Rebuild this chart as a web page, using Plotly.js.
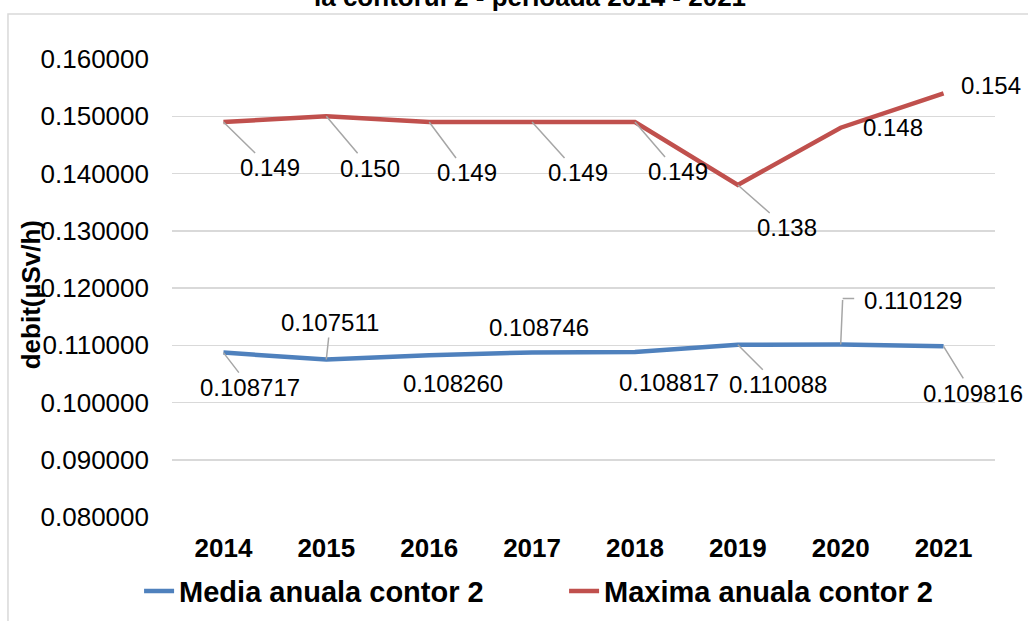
<!DOCTYPE html>
<html>
<head>
<meta charset="utf-8">
<script src="https://cdn.plot.ly/plotly-3.0.1.min.js"></script>
<style>html,body{margin:0;padding:0;background:#fff;}#chart{width:1028px;height:621px;}</style>
</head>
<body>
<div id="chart"></div>
<script>
// ---- data ----
const years = ['2014','2015','2016','2017','2018','2019','2020','2021'];
const mediaValues = [0.108717, 0.107511, 0.108260, 0.108746, 0.108817, 0.110088, 0.110129, 0.109816];
const maximaValues = [0.149, 0.150, 0.149, 0.149, 0.149, 0.138, 0.148, 0.154];
const seriesNames = ['Media anuala contor 2', 'Maxima anuala contor 2'];
const titleText = 'la contorul 2 - perioada 2014 - 2021';
const yTitleText = 'debit(µSv/h)';

// ---- label styling (pixel offsets of label centre from its point) ----
const maxOffsets = [[47,46,true],[44,52,true],[38,51,true],[46,51,true],[43,50,true],[49,43,true],[52,0,false],[47,-8,false]];
const medOffsets = [[27,35,true],[4,-37,true],[24,28,false],[7,-25,false],[34,30,false],[40,40,true],[72,-44,'elbow'],[29,47,true]];

const FONT = 'Liberation Sans, Arial, sans-serif';
const labelFont = {family: FONT, size: 24, color: '#000'};
const leader = '#a6a6a6';

const traces = [
  {x: years, y: mediaValues, name: seriesNames[0], type: 'scatter', mode: 'lines',
   line: {color: '#4F81BD', width: 4.5}},
  {x: years, y: maximaValues, name: seriesNames[1], type: 'scatter', mode: 'lines',
   line: {color: '#C0504D', width: 4.5}}
];

const annotations = [];
function addLabels(vals, offs, digits) {
  vals.forEach((v, i) => {
    const [dx, dy, arrow] = offs[i];
    const txt = v.toFixed(digits);
    if (arrow === true) {
      annotations.push({x: i, y: v, xref: 'x', yref: 'y', text: txt, font: labelFont,
        showarrow: true, arrowhead: 0, arrowwidth: 1.5, arrowcolor: leader, ax: dx, ay: dy, standoff: 0});
    } else if (arrow === 'elbow') {
      annotations.push({x: i, y: v, xref: 'x', yref: 'y', text: '', showarrow: true,
        arrowhead: 0, arrowwidth: 1.5, arrowcolor: leader, ax: 2, ay: -46, standoff: 0});
      annotations.push({x: i, y: v, xref: 'x', yref: 'y', text: '', showarrow: true,
        arrowhead: 0, arrowwidth: 1.5, arrowcolor: leader, ax: 13, ay: 0, xshift: 2, yshift: 46, standoff: 0});
      annotations.push({x: i, y: v, xref: 'x', yref: 'y', text: txt, font: labelFont,
        showarrow: false, xshift: dx, yshift: -dy});
    } else {
      annotations.push({x: i, y: v, xref: 'x', yref: 'y', text: txt, font: labelFont,
        showarrow: false, xshift: dx, yshift: -dy});
    }
  });
}
addLabels(maximaValues, maxOffsets, 3);
addLabels(mediaValues, medOffsets, 6);

annotations.push({xref: 'paper', yref: 'paper', x: -0.172, xanchor: 'center', y: 0.485, yanchor: 'middle',
  text: '<b>' + yTitleText + '</b>', textangle: -90, showarrow: false,
  font: {family: FONT, size: 26, color: '#000'}});

const layout = {
  width: 1028, height: 621,
  paper_bgcolor: '#fff', plot_bgcolor: '#fff',
  margin: {l: 172, r: 33, t: 59, b: 104, autoexpand: false},
  title: {text: '<b>' + titleText + '</b>', font: {family: FONT, size: 26, color: '#000'},
          x: 0.5156, xanchor: 'center', xref: 'container', yref: 'container', y: 0.991, yanchor: 'bottom'},
  showlegend: true,
  legend: {orientation: 'h', x: -0.04, xanchor: 'left', y: -0.162, yanchor: 'middle',
           font: {family: FONT, size: 29, color: '#000', weight: 'bold'},
           entrywidth: 380, entrywidthmode: 'pixels', bgcolor: 'rgba(0,0,0,0)'},
  xaxis: {type: 'category', range: [-0.5, 7.5], autorange: false, showgrid: false, zeroline: false,
          showline: false, ticks: '', automargin: false,
          tickfont: {family: FONT, size: 26, color: '#000', weight: 'bold'}, ticklabelstandoff: 13,
          fixedrange: true},
  yaxis: {range: [0.08, 0.16], autorange: false, dtick: 0.01, tick0: 0.08, tickformat: '.6f', showgrid: true,
          gridcolor: '#d9d9d9', gridwidth: 1.5, zeroline: false, showline: false, ticks: '', automargin: false,
          tickfont: {family: FONT, size: 26, color: '#000'}, ticklabelstandoff: 22, fixedrange: true},
  annotations: annotations,
  shapes: [
    {type: 'rect', xref: 'paper', yref: 'paper', x0: -0.1993, x1: 1.2, y0: -0.4, y1: 1.0983,
     line: {color: '#d9d9d9', width: 1.5}, fillcolor: 'rgba(0,0,0,0)', layer: 'below'}
  ]
};

Plotly.newPlot('chart', traces, layout, {displayModeBar: false, staticPlot: true});
</script>
</body>
</html>
